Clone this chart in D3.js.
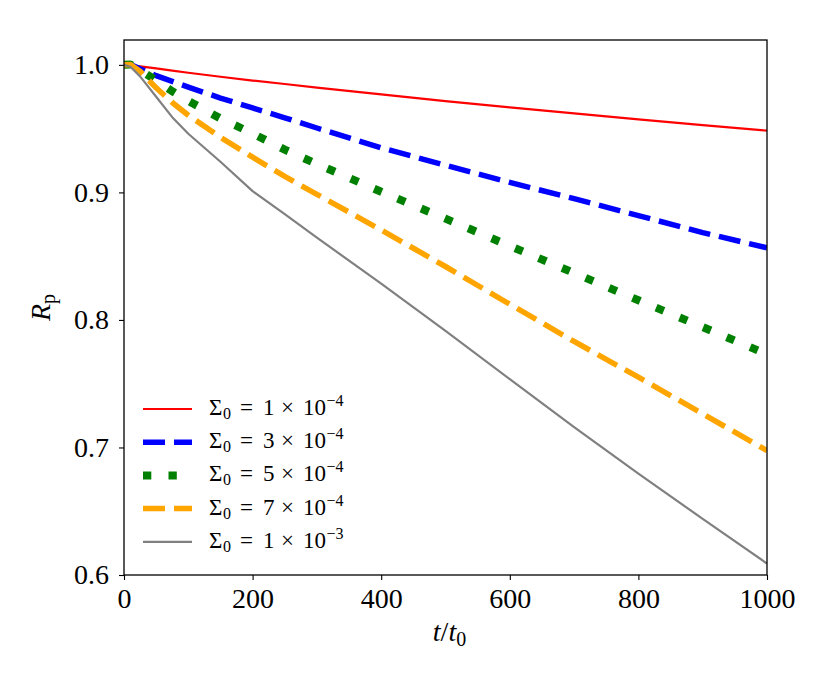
<!DOCTYPE html>
<html>
<head>
<meta charset="utf-8">
<script src="https://cdn.jsdelivr.net/npm/d3@7"></script>
<style>
  body { margin: 0; background: #fff; }
  text { font-family: "Liberation Serif", serif; fill: #000; }
</style>
</head>
<body>
<div id="chart"></div>
<script>
// time axis samples (t / t0)
var tVals = [0, 10, 25, 50, 75, 100, 150, 200, 250, 300, 400, 500, 600, 700, 800, 900, 1000];

// R_p for each Sigma_0
var rp1e4 = [1.0, 0.9995, 0.9988, 0.9972, 0.9955, 0.9938, 0.9907, 0.9877, 0.985, 0.9822, 0.9769, 0.9716, 0.9666, 0.9619, 0.9573, 0.9528, 0.9484];
var rp3e4 = [1.0, 1.0003, 0.997, 0.9915, 0.987, 0.9825, 0.974, 0.9662, 0.9585, 0.9505, 0.935, 0.9213, 0.9078, 0.8951, 0.8818, 0.8685, 0.8565];
var rp5e4 = [1.0, 1.0003, 0.996, 0.9878, 0.9793, 0.9718, 0.958, 0.9462, 0.9335, 0.9223, 0.9005, 0.8794, 0.858, 0.8368, 0.8154, 0.7944, 0.7731];
var rp7e4 = [1.0, 1.0002, 0.995, 0.982, 0.9705, 0.9605, 0.9432, 0.9276, 0.9125, 0.8985, 0.8705, 0.8419, 0.8123, 0.7831, 0.7551, 0.7264, 0.6975];
var rp1e3 = [1.0, 0.9985, 0.991, 0.975, 0.959, 0.946, 0.924, 0.901, 0.883, 0.8645, 0.8285, 0.7915, 0.7535, 0.716, 0.6795, 0.644, 0.609];

var legendCoef = ["1", "3", "5", "7", "1"];
var legendExp = ["\u22124", "\u22124", "\u22124", "\u22124", "\u22123"];

var xTicks = [0, 200, 400, 600, 800, 1000];
var yTicks = [0.6, 0.7, 0.8, 0.9, 1.0];

var styles = [
  { color: "#ff0000", width: 2.2, dash: null },
  { color: "#0000ff", width: 5.5, dash: "22 9" },
  { color: "#008000", width: 8, dash: "8.3 17.2" },
  { color: "#ffa500", width: 5.5, dash: "22 9" },
  { color: "#808080", width: 2.2, dash: null }
];
var allSeries = [rp1e4, rp3e4, rp5e4, rp7e4, rp1e3];

var width = 830, height = 692;
var margin = {top: 40, right: 63, bottom: 117, left: 124};

var svg = d3.select("#chart").append("svg")
    .attr("width", width)
    .attr("height", height);

var x = d3.scaleLinear().domain([0, 1000]).range([margin.left, width - margin.right]);
var y = d3.scaleLinear().domain([0.6, 1.0195]).range([height - margin.bottom, margin.top]);

svg.append("clipPath").attr("id", "clip")
  .append("rect")
    .attr("x", x(0)).attr("y", y(1.0195))
    .attr("width", x(1000) - x(0)).attr("height", y(0.6) - y(1.0195));

var line = d3.line()
    .x(function(d) { return x(d[0]); })
    .y(function(d) { return y(d[1]); });

var g = svg.append("g").attr("clip-path", "url(#clip)");
allSeries.forEach(function(vals, i) {
  var pts = tVals.map(function(t, j) { return [t, vals[j]]; });
  var p = g.append("path")
      .datum(pts)
      .attr("d", line)
      .attr("fill", "none")
      .attr("stroke", styles[i].color)
      .attr("stroke-width", styles[i].width)
      .attr("stroke-linejoin", "round");
  if (styles[i].dash) p.attr("stroke-dasharray", styles[i].dash);
});

// axes
var xAxis = d3.axisBottom(x).tickValues(xTicks).tickSize(5).tickPadding(8)
    .tickFormat(d3.format("d"));
var yAxis = d3.axisLeft(y).tickValues(yTicks).tickSize(5).tickPadding(10)
    .tickFormat(d3.format(".1f"));

var gx = svg.append("g")
    .attr("transform", "translate(0," + y(0.6) + ")")
    .call(xAxis);
var gy = svg.append("g")
    .attr("transform", "translate(" + x(0) + ",0)")
    .call(yAxis);

[gx, gy].forEach(function(a) {
  a.select(".domain").remove();
  a.selectAll("line").attr("stroke", "#000").attr("stroke-width", 1.1);
  a.selectAll("text")
    .style("font-family", "'Liberation Serif', serif")
    .style("font-size", "28px")
    .attr("fill", "#000");
});

// frame
svg.append("rect")
    .attr("x", x(0)).attr("y", y(1.0195))
    .attr("width", x(1000) - x(0)).attr("height", y(0.6) - y(1.0195))
    .attr("fill", "none")
    .attr("stroke", "#000")
    .attr("stroke-width", 1.3);

// x label: t/t_0
var xl = svg.append("text")
    .attr("x", (x(0) + x(1000)) / 2 + 4)
    .attr("y", 641)
    .attr("text-anchor", "middle")
    .style("font-size", "28px");
xl.append("tspan").style("font-style", "italic").text("t");
xl.append("tspan").text("/");
xl.append("tspan").style("font-style", "italic").text("t");
xl.append("tspan").attr("dy", 5).style("font-size", "20px").text("0");

// y label: R_p
var yl = svg.append("text")
    .attr("transform", "translate(50," + ((y(0.6) + y(1.0195)) / 2) + ") rotate(-90)")
    .attr("text-anchor", "middle")
    .style("font-size", "28px");
yl.append("tspan").style("font-style", "italic").text("R");
yl.append("tspan").attr("dy", 5).style("font-size", "20px").text("p");

// legend
var legX = 143, legY = 409, legStep = 33.2;
styles.forEach(function(s, i) {
  var cy = legY + i * legStep;
  var l = svg.append("line")
      .attr("x1", legX).attr("x2", legX + 49)
      .attr("y1", cy).attr("y2", cy)
      .attr("stroke", s.color)
      .attr("stroke-width", s.width);
  if (s.dash) l.attr("stroke-dasharray", s.dash);

  var tx = svg.append("text")
      .attr("x", 209)
      .attr("y", cy + 6)
      .style("font-size", "23px");
  tx.append("tspan").text("\u03a3");
  tx.append("tspan").attr("x", 223).attr("dy", 4).style("font-size", "16px").text("0");
  tx.append("tspan").attr("x", 240).attr("dy", -4).text("=");
  tx.append("tspan").attr("x", 263).text(legendCoef[i]);
  tx.append("tspan").attr("x", 281).text("\u00d7");
  tx.append("tspan").attr("x", 303).text("10");
  tx.append("tspan").attr("x", 326.5).attr("dy", -9).style("font-size", "16px").text(legendExp[i]);
});
</script>
</body>
</html>
